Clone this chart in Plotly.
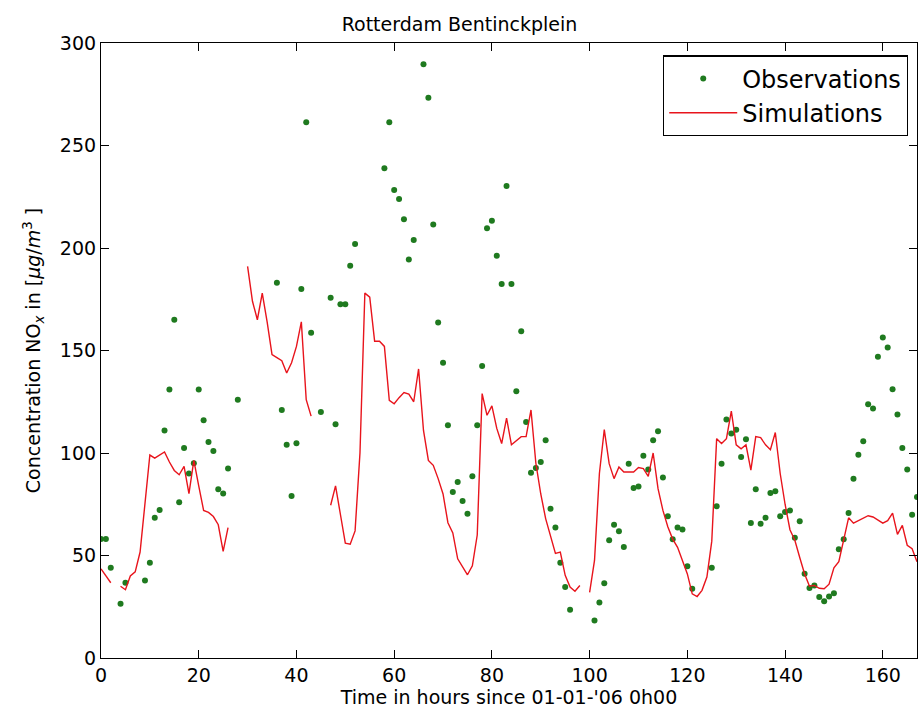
import plotly.graph_objects as go

hours = list(range(168))

observations = [
    58, 58, 44, None, 26.5, 36.7, None, None, None, 37.8,
    46.5, 68.4, 72.2, 111, 131, 165, 76, 102.5, 90, 95,
    131, 116, 105.4, 101, 82.3, 80.3, 92.4, None, 126, None,
    None, None, None, None, None, None, 183, 121, 104, 79,
    104.7, 180, 261.3, 158.6, None, 120, None, 175.7, 114, 172.6,
    172.6, 191.3, 202, None, None, None, None, None, 238.9, 261.3,
    228.3, 223.9, 214, 194.4, 203.9, None, 289.6, 273.3, 211.5, 163.7,
    144, 113.5, 81, 85.8, 76.6, 70.4, 88.6, 113.5, 142.5, 209.6,
    213.3, 196.2, 182.5, 230.2, 182.5, 130.1, 159.4, 115.1, 90.4, 92.7,
    95.6, 106.2, 72.8, 63.6, 46.5, 34.6, 23.5, None, None, None,
    None, 18.3, 27.1, 36.5, 57.4, 65, 61.8, 54.1, 94.8, 82.9,
    83.7, 98.7, 91.9, 106.2, 110.6, 88, 69.2, 57.9, 63.6, 62.7,
    44.7, 33.8, None, None, None, 44, 74, 94.8, 116.3, 109.5,
    111.4, 98, 106.7, 65.8, 82.3, 65.5, 68.4, 80.5, 81.4, 69.1,
    71.2, 72, 58.7, 66.7, 41.1, 34.1, 35.4, 29.7, 27.7, 30,
    31.6, 53, 57.9, 70.7, 87.5, 99.2, 105.7, 123.8, 121.7, 146.9,
    156.3, 151.5, 131.1, 118.8, 102.4, 91.9, 69.9, 78.5,
]

simulations = [
    43.5, 40, 36.7, None, 35, 33.3, 40, 42, 51.7, 75,
    99, 97.5, 99, 100.5, 95.6, 91.5, 89.4, 93.5, 80.2, 96.4,
    84, 72, 71, 69, 65, 52, 63.6, None, None, None,
    191, 174, 165, 178, 164, 148, 146.5, 145, 139, 144,
    152, 164, 126, 118, None, None, None, 74.5, 84, 70,
    56, 55.5, 62, 100, 178, 176, 154.5, 154.5, 152, 125.7,
    124, 127, 129.5, 128.7, 125, 141, 111, 96.4, 94, 87.5,
    80, 66, 61, 48.4, 44.3, 40.6, 45, 60, 129, 118.4,
    123, 112, 104.6, 117, 104, 106, 108, 108, 121, 95,
    80, 68, 59, 51, 51.7, 40.3, 34.6, 32.6, 35.4, None,
    32, 47.6, 90, 111.4, 94.8, 87.5, 93.2, 90.7, 90.7, 90.7,
    92.9, 92.4, 88.6, 100, 82.6, 72, 64, 58, 54, 47.6,
    41, 31.3, 30, 33, 39.5, 57, 107, 104.6, 107, 120.4,
    104, 102, 104, 91.6, 108, 107.5, 104, 101.6, 110, 90,
    75, 62.6, 57.4, 49, 41, 35, 35.4, 34, 33.8, 36,
    44, 47, 58, 68.4, 65.8, 67, 68, 69.4, 68.8, 67.5,
    65.8, 67, 70.7, 60.3, 64.7, 55, 53.3, 47,
]

x_ticks = [0, 20, 40, 60, 80, 100, 120, 140, 160]
y_ticks = [0, 50, 100, 150, 200, 250, 300]

FONT = "DejaVu Sans"

fig = go.Figure()
fig.add_trace(go.Scatter(
    x=hours, y=observations, mode="markers", name="Observations",
    marker=dict(color="#1f7a1f", size=6),
))
fig.add_trace(go.Scatter(
    x=hours, y=simulations, mode="lines", name="Simulations",
    line=dict(color="#e8141c", width=1.4), connectgaps=False,
))

axis_common = dict(
    showline=True, linecolor="black", linewidth=1.2, mirror="allticks",
    ticks="inside", ticklen=8, tickcolor="black", tickwidth=1,
    showgrid=False, zeroline=False,
    tickfont=dict(family=FONT, size=19, color="black"),
)

fig.update_layout(
    width=919, height=709,
    margin=dict(l=101, r=2, t=43, b=51),
    paper_bgcolor="white", plot_bgcolor="white",
    font=dict(family=FONT, color="black"),
    title=dict(text="Rotterdam Bentinckplein", x=0.5, xanchor="center",
               y=1 - 24 / 709, yanchor="middle", yref="container",
               font=dict(family=FONT, size=19, color="black")),
    xaxis=dict(range=[0, 167], tickvals=x_ticks,
               title=dict(text="Time in hours since 01-01-'06 0h00",
                          font=dict(family=FONT, size=19), standoff=3),
               **axis_common),
    yaxis=dict(range=[0, 300], tickvals=y_ticks,
               title=dict(text="Concentration NO<sub><i>x</i></sub> in [<i>μg</i>/<i>m</i><sup>3</sup> ]",
                          font=dict(family=FONT, size=19), standoff=14),
               **axis_common),
    legend=dict(x=0.989, y=0.980, xanchor="right", yanchor="top",
                bordercolor="black", borderwidth=1.2, bgcolor="white",
                font=dict(family=FONT, size=24, color="black"),
                itemwidth=68, tracegroupgap=0),
    showlegend=True,
)

fig.write_html("out.html")
